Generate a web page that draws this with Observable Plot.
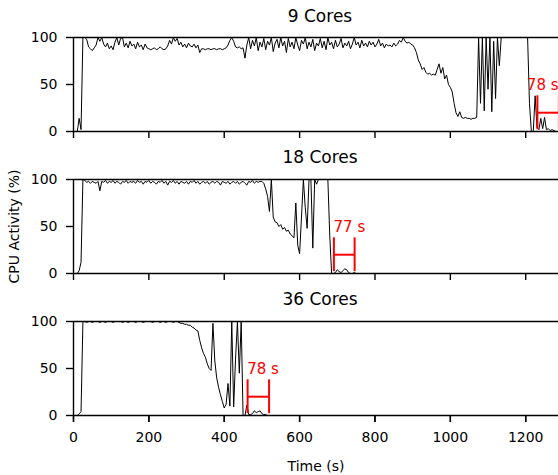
<!DOCTYPE html>
<html><head><meta charset="utf-8">
<script src="https://cdn.jsdelivr.net/npm/d3@7"></script>
<script src="https://cdn.jsdelivr.net/npm/@observablehq/plot@0.6"></script>
<style>body{margin:0;background:#fff;} #chart svg{font-family:"DejaVu Sans";}</style>
</head><body><div id="chart"></div>
<script>
// Panels (facets)
const panels = ["9 Cores", "18 Cores", "36 Cores"];
// sampling interval of the series below, in seconds
const step = 5;
const cpu9 = [0,0,0,14,2,100,100,98,90,88,86,89,92,100,96,100,93,90,94,88,91,87,95,100,92,99,100,90,94,89,96,91,93,88,95,90,92,87,93,89,
88,87,88,89,87,88,90,88,87,88,91,97,93,100,96,99,92,95,90,93,89,94,91,90,93,89,92,84,88,88,87,88,88,87,88,88,87,88,88,87,
88,89,92,97,100,96,90,89,90,88,89,78,92,100,88,97,91,100,86,95,90,99,87,96,92,100,85,94,98,89,100,91,96,84,99,90,95,88,100,92,
86,97,93,100,88,95,90,98,86,94,91,99,89,96,87,100,92,95,88,97,90,93,99,89,94,91,96,88,93,100,92,95,89,97,91,94,90,96,92,95,
90,93,98,91,94,89,93,91,92,90,94,91,93,97,95,100,96,94,95,93,92,89,84,76,72,66,68,63,61,62,60,61,60,66,72,62,68,56,60,50,
47,42,30,20,16,21,15,14,15,14,14,13,14,14,15,100,30,100,22,100,45,100,21,96,35,100,70,100,100,100,100,100,100,100,100,100,
100,100,100,100,100,100,30,0,0,38,4,2,14,3,15,2,3,1,2,1,0,0];
const cpu18 = [0,0,0,3,12,100,99,97,98,96,98,97,96,98,88,98,97,99,96,98,97,99,96,98,97,95,98,97,99,96,98,97,98,96,99,97,98,95,98,97,
99,96,98,97,95,98,97,99,96,98,94,98,97,99,96,98,95,98,97,96,98,95,98,97,99,96,98,95,97,98,96,98,95,97,98,96,98,97,94,98,
97,96,98,95,97,98,96,98,95,97,98,96,94,98,97,99,96,98,97,98,98,96,90,82,66,100,60,55,54,50,52,47,49,45,46,42,40,38,75,30,
21,60,100,70,48,100,100,27,100,95,100,100,100,100,100,100,40,0,0,1,4,2,1,3,5,4,1,0,0,1,0,0];
const cpu36 = [0,0,0,2,4,100,100,99,100,100,99,100,100,100,99,100,100,99,100,100,100,99,100,100,100,100,99,100,100,99,100,100,100,99,100,100,100,99,100,100,
100,100,99,100,100,100,99,100,100,99,100,100,100,99,100,100,99,98,98,97,97,96,96,94,93,91,90,80,72,66,62,55,50,48,98,58,40,30,22,15,
8,12,34,10,100,9,60,100,45,100,0,0,11,1,1,2,5,3,4,5,2,1,1,0,0,0];
const series = [cpu9, cpu18, cpu36];

// Axis ticks
const xTicks = [0, 200, 400, 600, 800, 1000, 1200];
const yTicks = [0, 50, 100];

// Red "idle tail" annotations, one per panel
const annotLabel = ["78 s", "77 s", "78 s"];
const annotStart = [1231, 691, 462];
const annotEnd = [1288, 746, 519];
const annotTextX = [1203, 690, 461];
const bracketLow = 2, bracketHigh = 38, bracketMid = 20, annotTextY = 44;

const rows = [];
panels.forEach((p, k) => series[k].forEach((v, i) => rows.push({panel: p, t: i * step, v})));
const annots = panels.map((p, k) => ({panel: p, start: annotStart[k], end: annotEnd[k], label: annotLabel[k], tx: annotTextX[k]}));

const chart = Plot.plot({
  width: 558, height: 475,
  marginLeft: 73, marginRight: 0, marginTop: 37, marginBottom: 60,
  style: {fontFamily: "DejaVu Sans", fontSize: "14px", color: "black", background: "white", overflow: "visible"},
  x: {domain: [0, 1287]},
  y: {domain: [0, 100]},
  fy: {domain: panels, paddingInner: 0.338, paddingOuter: 0, round: false},
  marks: [
    Plot.ruleY([0, 100], {strokeWidth: 1.4}),
    Plot.ruleX([0], {strokeWidth: 1.4}),
    Plot.axisY(yTicks, {tickSize: 7, tickPadding: 9, label: null, fontSize: 14, strokeWidth: 1.4}),
    Plot.axisX(xTicks, {tickSize: 7, tickFormat: () => "", facetAnchor: null, label: null, strokeWidth: 1.4}),
    Plot.axisX(xTicks, {tickSize: 7, tickPadding: 10, tickFormat: d => String(d), label: "Time (s)", labelAnchor: "center", labelArrow: "none", labelOffset: 55, fontSize: 14, strokeWidth: 1.4}),
    Plot.axisFy({anchor: "left", tickSize: 0, tickFormat: () => "", label: "CPU Activity (%)", labelAnchor: "center", labelArrow: "none", labelOffset: 64, fontSize: 14}),
    Plot.lineY(rows, {x: "t", y: "v", fy: "panel", stroke: "black", strokeWidth: 1, clip: true}),
    Plot.text(panels, {fy: d => d, text: d => d, frameAnchor: "top", lineAnchor: "bottom", dy: -16, dx: 4, fontSize: 17}),
    Plot.ruleX(annots, {x: "start", y1: bracketLow, y2: bracketHigh, fy: "panel", stroke: "red", strokeWidth: 2, clip: true}),
    Plot.ruleX(annots, {x: "end", y1: bracketLow, y2: bracketHigh, fy: "panel", stroke: "red", strokeWidth: 2, clip: true}),
    Plot.ruleY(annots, {y: bracketMid, x1: "start", x2: "end", fy: "panel", stroke: "red", strokeWidth: 2, clip: true}),
    Plot.text(annots, {x: "tx", y: annotTextY, text: "label", fy: "panel", fill: "red", textAnchor: "start", lineAnchor: "bottom", fontSize: 15})
  ]
});
document.getElementById("chart").append(chart);
</script>
</body></html>
